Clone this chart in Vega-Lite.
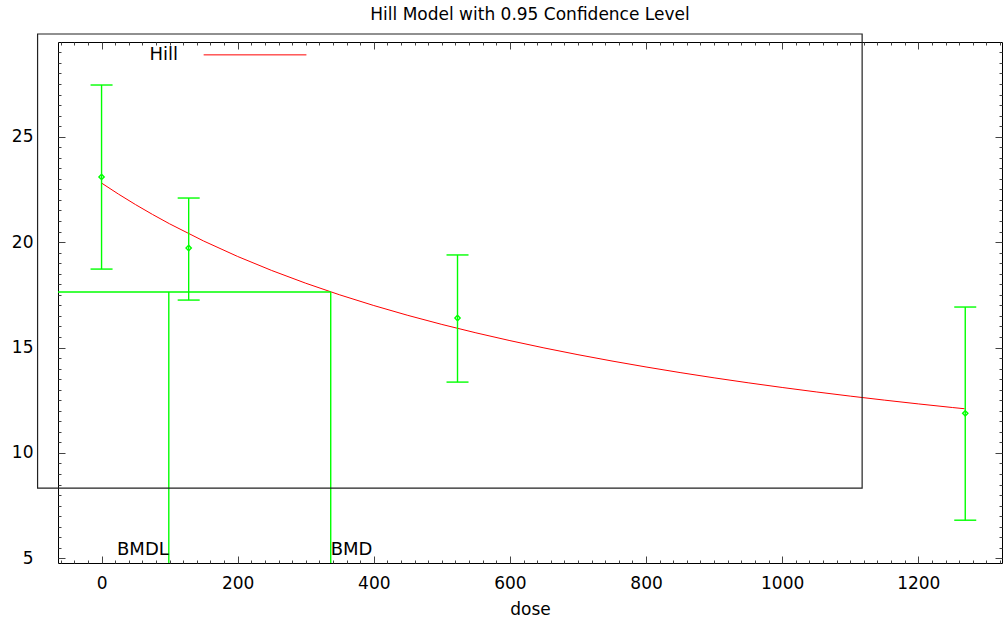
{
  "$schema": "https://vega.github.io/schema/vega-lite/v6.json",
  "width": 944,
  "height": 521,
  "autosize": {"type": "none"},
  "padding": {"left": 58, "top": 42, "right": 3, "bottom": 55},
  "background": "white",
  "title": {"text": "Hill Model with 0.95 Confidence Level", "anchor": "middle", "font": "DejaVu Sans", "fontSize": 17, "fontWeight": "normal", "color": "#000", "offset": 9},
  "config": {
    "view": {"stroke": "#000", "strokeWidth": 1},
    "axis": {"labelFont": "DejaVu Sans", "labelFontSize": 17, "labelColor": "#000", "titleFont": "DejaVu Sans", "titleFontSize": 17, "titleFontWeight": "normal", "titleColor": "#000", "grid": false, "domain": false, "tickColor": "#444", "format": "d"}
  },
  "datasets": {
    "curve": [
      {"dose": 0, "resp": 22.8}, {"dose": 25, "resp": 22.273}, {"dose": 50, "resp": 21.777}, {"dose": 75, "resp": 21.309},
      {"dose": 100, "resp": 20.866}, {"dose": 150, "resp": 20.051}, {"dose": 200, "resp": 19.317}, {"dose": 250, "resp": 18.653},
      {"dose": 300, "resp": 18.049}, {"dose": 350, "resp": 17.497}, {"dose": 400, "resp": 16.991}, {"dose": 450, "resp": 16.525},
      {"dose": 500, "resp": 16.095}, {"dose": 550, "resp": 15.697}, {"dose": 600, "resp": 15.327}, {"dose": 650, "resp": 14.982},
      {"dose": 700, "resp": 14.66}, {"dose": 750, "resp": 14.359}, {"dose": 800, "resp": 14.077}, {"dose": 850, "resp": 13.812},
      {"dose": 900, "resp": 13.562}, {"dose": 950, "resp": 13.327}, {"dose": 1000, "resp": 13.105}, {"dose": 1050, "resp": 12.894},
      {"dose": 1100, "resp": 12.695}, {"dose": 1150, "resp": 12.506}, {"dose": 1200, "resp": 12.326}, {"dose": 1250, "resp": 12.155},
      {"dose": 1268, "resp": 12.096}
    ],
    "obs": [
      {"dose": 0, "mean": 23.09, "lo": 18.72, "hi": 27.45},
      {"dose": 128, "mean": 19.72, "lo": 17.25, "hi": 22.09},
      {"dose": 523, "mean": 16.4, "lo": 13.36, "hi": 19.39},
      {"dose": 1269, "mean": 11.88, "lo": 6.81, "hi": 16.92}
    ],
    "bmdv": [
      {"dose": 98.8, "y1": 4.78, "y2": 17.63, "label": "BMDL", "ly": 5.14},
      {"dose": 336.7, "y1": 4.78, "y2": 17.63, "label": "BMD", "ly": 5.14}
    ],
    "bmdh": [{"x1": -64, "x2": 336.7, "y": 17.63}],
    "box": [{"x1": -94, "x2": 1117.5, "y1": 8.33, "y2": 29.87}],
    "legend": [{"x1": 150, "x2": 301, "y": 28.88, "tx": 70.5, "label": "Hill"}]
  },
  "resolve": {"axis": {"x": "independent", "y": "independent"}},
  "layer": [
    {
      "data": {"name": "curve"},
      "mark": {"type": "line", "color": "#ff0000", "strokeWidth": 1},
      "encoding": {
        "x": {"field": "dose", "type": "quantitative", "scale": {"domain": [-64, 1323], "nice": false, "zero": false},
              "axis": {"orient": "bottom", "values": [0, 200, 400, 600, 800, 1000, 1200], "tickSize": -7, "labelPadding": 19, "title": "dose", "titlePadding": 10}},
        "y": {"field": "resp", "type": "quantitative", "scale": {"domain": [4.78, 29.49], "nice": false, "zero": false},
              "axis": {"orient": "left", "values": [5, 10, 15, 20, 25], "tickSize": -7, "labelPadding": 32, "title": null}}
      }
    },
    {
      "data": {"name": "obs"},
      "mark": {"type": "rule", "color": "#00ff00", "strokeWidth": 1.4},
      "encoding": {
        "x": {"field": "dose", "type": "quantitative",
              "axis": {"orient": "bottom", "values": [-60,-40,-20,20,40,60,80,100,120,140,160,180,220,240,260,280,300,320,340,360,380,420,440,460,480,500,520,540,560,580,620,640,660,680,700,720,740,760,780,820,840,860,880,900,920,940,960,980,1020,1040,1060,1080,1100,1120,1140,1160,1180,1220,1240,1260,1280,1300,1320], "tickSize": -3, "labels": false, "title": null}},
        "y": {"field": "lo", "type": "quantitative",
              "axis": {"orient": "left", "values": [5.5,6,6.5,7,7.5,8,8.5,9,9.5,10.5,11,11.5,12,12.5,13,13.5,14,14.5,15.5,16,16.5,17,17.5,18,18.5,19,19.5,20.5,21,21.5,22,22.5,23,23.5,24,24.5,25.5,26,26.5,27,27.5,28,28.5,29], "tickSize": -3, "labels": false, "title": null}},
        "y2": {"field": "hi"}
      }
    },
    {
      "data": {"name": "obs"},
      "mark": {"type": "point", "shape": "diamond", "filled": false, "color": "#00ff00", "size": 28, "strokeWidth": 1.4, "opacity": 1},
      "encoding": {
        "x": {"field": "dose", "type": "quantitative",
              "axis": {"orient": "top", "values": [0, 200, 400, 600, 800, 1000, 1200], "tickSize": -7, "labels": false, "title": null}},
        "y": {"field": "mean", "type": "quantitative",
              "axis": {"orient": "right", "values": [5, 10, 15, 20, 25], "tickSize": -7, "labels": false, "title": null}}
      }
    },
    {
      "data": {"name": "obs"},
      "mark": {"type": "tick", "orient": "horizontal", "color": "#00ff00", "size": 22, "thickness": 1.4, "opacity": 1},
      "encoding": {
        "x": {"field": "dose", "type": "quantitative",
              "axis": {"orient": "top", "values": [-60,-40,-20,20,40,60,80,100,120,140,160,180,220,240,260,280,300,320,340,360,380,420,440,460,480,500,520,540,560,580,620,640,660,680,700,720,740,760,780,820,840,860,880,900,920,940,960,980,1020,1040,1060,1080,1100,1120,1140,1160,1180,1220,1240,1260,1280,1300,1320], "tickSize": -3, "labels": false, "title": null}},
        "y": {"field": "hi", "type": "quantitative",
              "axis": {"orient": "right", "values": [5.5,6,6.5,7,7.5,8,8.5,9,9.5,10.5,11,11.5,12,12.5,13,13.5,14,14.5,15.5,16,16.5,17,17.5,18,18.5,19,19.5,20.5,21,21.5,22,22.5,23,23.5,24,24.5,25.5,26,26.5,27,27.5,28,28.5,29], "tickSize": -3, "labels": false, "title": null}}
      }
    },
    {
      "data": {"name": "obs"},
      "mark": {"type": "tick", "orient": "horizontal", "color": "#00ff00", "size": 22, "thickness": 1.4, "opacity": 1},
      "encoding": {
        "x": {"field": "dose", "type": "quantitative", "axis": null},
        "y": {"field": "lo", "type": "quantitative", "axis": null}
      }
    },
    {
      "data": {"name": "bmdh"},
      "mark": {"type": "rule", "color": "#00ff00", "strokeWidth": 1.4},
      "encoding": {
        "x": {"field": "x1", "type": "quantitative", "axis": null},
        "x2": {"field": "x2"},
        "y": {"field": "y", "type": "quantitative", "axis": null}
      }
    },
    {
      "data": {"name": "bmdv"},
      "mark": {"type": "rule", "color": "#00ff00", "strokeWidth": 1.4},
      "encoding": {
        "x": {"field": "dose", "type": "quantitative", "axis": null},
        "y": {"field": "y1", "type": "quantitative", "axis": null},
        "y2": {"field": "y2"}
      }
    },
    {
      "data": {"name": "bmdv"},
      "transform": [{"filter": "datum.label == 'BMDL'"}],
      "mark": {"type": "text", "align": "right", "baseline": "alphabetic", "font": "DejaVu Sans", "fontSize": 18, "color": "#000"},
      "encoding": {
        "x": {"field": "dose", "type": "quantitative", "axis": null},
        "y": {"field": "ly", "type": "quantitative", "axis": null},
        "text": {"field": "label"}
      }
    },
    {
      "data": {"name": "bmdv"},
      "transform": [{"filter": "datum.label == 'BMD'"}],
      "mark": {"type": "text", "align": "left", "baseline": "alphabetic", "font": "DejaVu Sans", "fontSize": 18, "color": "#000"},
      "encoding": {
        "x": {"field": "dose", "type": "quantitative", "axis": null},
        "y": {"field": "ly", "type": "quantitative", "axis": null},
        "text": {"field": "label"}
      }
    },
    {
      "data": {"name": "box"},
      "mark": {"type": "rect", "fill": null, "fillOpacity": 0, "stroke": "#222", "strokeWidth": 1.2},
      "encoding": {
        "x": {"field": "x1", "type": "quantitative", "axis": null},
        "x2": {"field": "x2"},
        "y": {"field": "y1", "type": "quantitative", "axis": null},
        "y2": {"field": "y2"}
      }
    },
    {
      "data": {"name": "legend"},
      "mark": {"type": "rule", "color": "#ff0000", "strokeWidth": 1},
      "encoding": {
        "x": {"field": "x1", "type": "quantitative", "axis": null},
        "x2": {"field": "x2"},
        "y": {"field": "y", "type": "quantitative", "axis": null}
      }
    },
    {
      "data": {"name": "legend"},
      "mark": {"type": "text", "align": "left", "baseline": "middle", "font": "DejaVu Sans", "fontSize": 18, "color": "#000"},
      "encoding": {
        "x": {"field": "tx", "type": "quantitative", "axis": null},
        "y": {"field": "y", "type": "quantitative", "axis": null},
        "text": {"field": "label"}
      }
    }
  ]
}
